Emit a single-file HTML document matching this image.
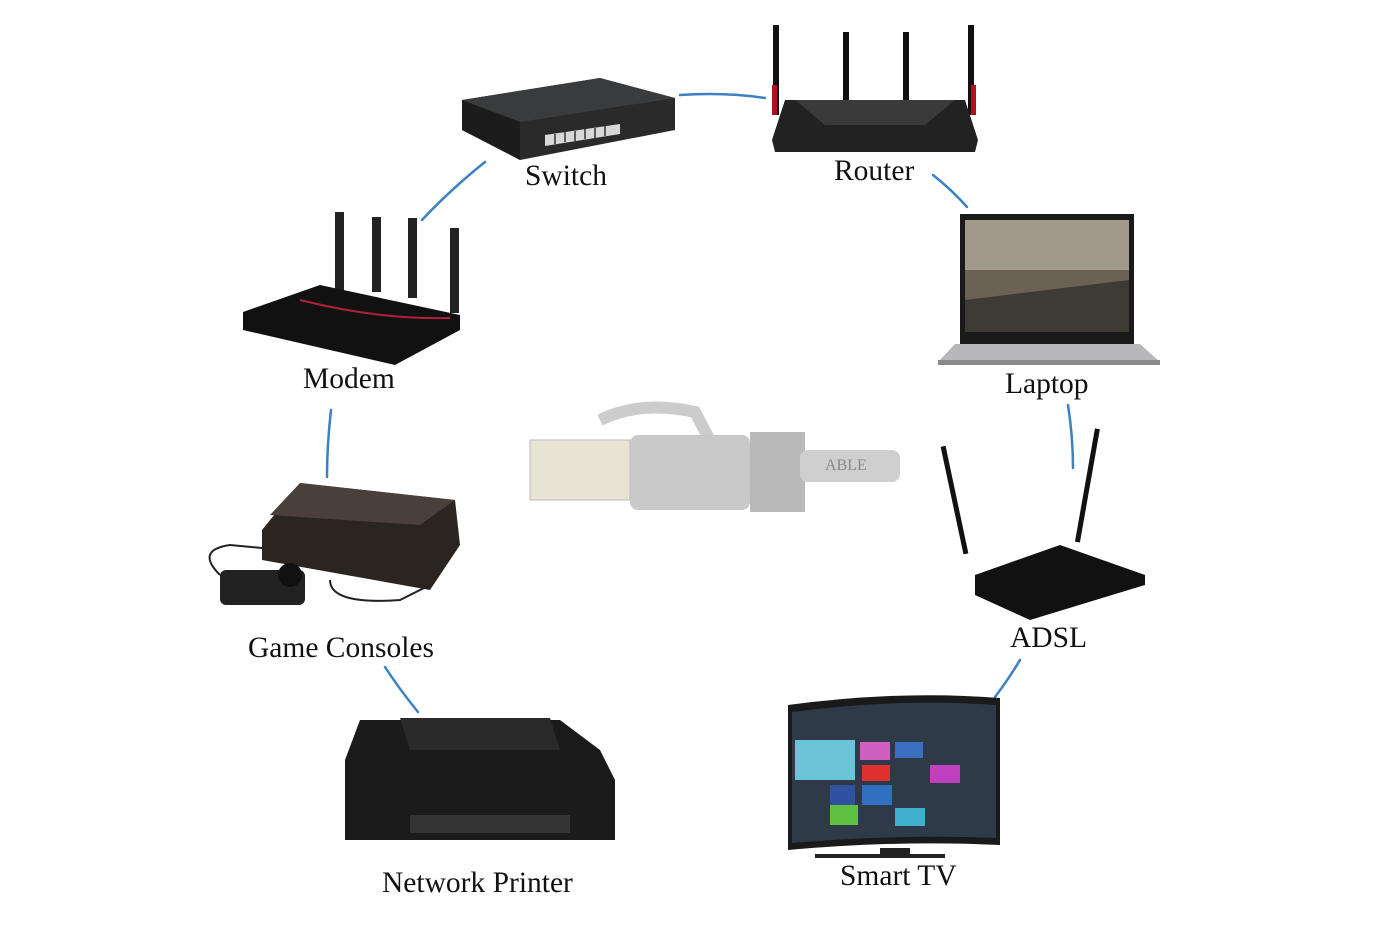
<!DOCTYPE html>
<html><head><meta charset="utf-8"><style>
html,body{margin:0;padding:0;background:#fff;}
svg{display:block}
text{font-family:"Liberation Serif",serif;font-size:29.5px;fill:#111;}
</style></head><body>
<svg width="1400" height="932" viewBox="0 0 1400 932" xmlns="http://www.w3.org/2000/svg">
<g fill="none" stroke="#3b82c4" stroke-width="2.5" stroke-linecap="round">
<path d="M680 95 Q725 92 765 98"/>
<path d="M485 162 Q450 190 422 220"/>
<path d="M933 175 Q952 190 967 207"/>
<path d="M331 410 Q327 445 327 477"/>
<path d="M1068 405 Q1073 437 1073 468"/>
<path d="M385 667 Q400 690 418 712"/>
<path d="M1020 660 Q1008 680 995 697"/>
</g>
<!-- Switch -->
<polygon points="462,100 600,78 675,98 675,130 520,160 462,130" fill="#2a2a2a"/>
<polygon points="462,100 600,78 675,98 520,122" fill="#3a3b3d"/>
<polygon points="462,100 520,122 520,160 462,130" fill="#1c1c1c"/>
<polygon points="545,135 620,124 620,134 545,146" fill="#d8d8d8"/>
<g stroke="#333" stroke-width="1.5"><path d="M555 134v10M565 132v10M575 131v10M585 129v10M595 128v10M605 126v10"/></g>
<!-- Router top -->
<rect x="773" y="25" width="6" height="90" fill="#111"/>
<rect x="843" y="32" width="6" height="70" fill="#111"/>
<rect x="903" y="32" width="6" height="70" fill="#111"/>
<rect x="968" y="25" width="6" height="90" fill="#111"/>
<polygon points="785,100 965,100 978,140 975,152 775,152 772,140" fill="#222"/>
<polygon points="795,100 955,100 925,125 825,125" fill="#3a3a3a"/>
<rect x="772" y="85" width="5" height="30" fill="#b01020"/>
<rect x="971" y="85" width="5" height="30" fill="#b01020"/>
<!-- Modem -->
<rect x="335" y="212" width="9" height="85" fill="#222"/>
<rect x="372" y="217" width="9" height="75" fill="#222"/>
<rect x="408" y="218" width="9" height="80" fill="#222"/>
<rect x="450" y="228" width="9" height="85" fill="#222"/>
<polygon points="243,312 320,285 460,315 460,330 395,365 243,330" fill="#111"/>
<path d="M300 300 Q380 320 450 318" stroke="#b0203a" stroke-width="2" fill="none"/>
<!-- Laptop -->
<rect x="960" y="214" width="174" height="130" fill="#1a1a1a"/>
<rect x="965" y="220" width="164" height="112" fill="#6b6255"/>
<rect x="965" y="220" width="164" height="50" fill="#a09a8c"/>
<polygon points="965,300 1129,280 1129,332 965,332" fill="#3e3a34"/>
<polygon points="955,344 1140,344 1160,362 938,362" fill="#b8b8ba"/>
<rect x="938" y="360" width="222" height="5" fill="#888"/>
<!-- Cable -->
<path d="M600 420 Q640 400 695 412 L715 450" stroke="#ccc" stroke-width="12" fill="none"/>
<rect x="530" y="440" width="100" height="60" fill="#e8e4d4" stroke="#bbb"/>
<rect x="630" y="435" width="120" height="75" rx="8" fill="#c9c9c9"/>
<rect x="750" y="432" width="55" height="80" fill="#b9b9b9"/>
<rect x="800" y="450" width="100" height="32" rx="8" fill="#cfcfcf"/>
<text x="825" y="470" style="font-size:16px;fill:#888">ABLE</text>
<!-- Game console -->
<polygon points="262,530 300,483 455,500 460,545 430,590 262,560" fill="#2b2522"/>
<polygon points="300,483 455,500 420,525 270,515" fill="#4a403b"/>
<rect x="220" y="570" width="85" height="35" rx="6" fill="#222"/>
<circle cx="290" cy="575" r="12" fill="#111"/>
<path d="M220 575 Q195 550 230 545 L262 548 M330 580 Q330 605 400 600 L430 585" stroke="#222" stroke-width="2" fill="none"/>
<!-- ADSL -->
<rect x="952" y="445" width="5" height="110" fill="#111" transform="rotate(-12 955 500)"/>
<rect x="1085" y="428" width="5" height="115" fill="#111" transform="rotate(10 1088 485)"/>
<polygon points="975,575 1060,545 1145,575 1145,585 1030,620 975,595" fill="#111"/>
<!-- Printer -->
<polygon points="360,720 560,720 600,750 615,780 615,840 345,840 345,760" fill="#1b1b1b"/>
<polygon points="400,718 550,718 560,750 410,750" fill="#2a2a2a"/>
<rect x="410" y="815" width="160" height="18" fill="#333"/>
<!-- Smart TV -->
<path d="M788 705 Q900 690 1000 698 L1000 845 Q900 840 788 850 Z" fill="#1a1a1a"/>
<path d="M792 712 Q900 698 996 705 L996 838 Q900 834 792 843 Z" fill="#2e3a48"/>
<rect x="795" y="740" width="60" height="40" fill="#6bc4d8"/>
<rect x="860" y="742" width="30" height="18" fill="#d060c0"/>
<rect x="895" y="742" width="28" height="16" fill="#3a70c0"/>
<rect x="862" y="765" width="28" height="16" fill="#e03030"/>
<rect x="930" y="765" width="30" height="18" fill="#c040c0"/>
<rect x="830" y="785" width="25" height="20" fill="#3050a0"/>
<rect x="862" y="785" width="30" height="20" fill="#3070c0"/>
<rect x="830" y="805" width="28" height="20" fill="#60c040"/>
<rect x="895" y="808" width="30" height="18" fill="#40b0d0"/>
<rect x="880" y="848" width="30" height="8" fill="#222"/>
<rect x="815" y="854" width="130" height="4" fill="#222"/>
<!-- Labels -->
<text x="525" y="185">Switch</text>
<text x="834" y="180">Router</text>
<text x="303" y="388">Modem</text>
<text x="1005" y="393">Laptop</text>
<text x="248" y="657">Game Consoles</text>
<text x="1010" y="647">ADSL</text>
<text x="382" y="892">Network Printer</text>
<text x="840" y="885">Smart TV</text>
</svg>
</body></html>
